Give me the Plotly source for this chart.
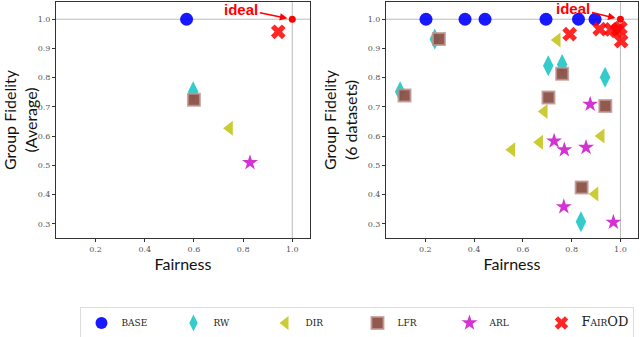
import plotly.graph_objects as go
from plotly.subplots import make_subplots

# method names as they appear in the legend
methods = ["BASE", "RW", "DIR", "LFR", "ARL", "FairOD"]
legend_labels = ["BASE", "RW", "DIR", "LFR", "ARL",
                 "<span style='font-size:13px'>F</span>AIR<span style='font-size:13px'>OD</span>"]

# left panel: averages over datasets
avg_fairness = [0.570, 0.597, 0.745, 0.600, 0.828, 0.943]
avg_fidelity = [1.000, 0.752, 0.627, 0.724, 0.509, 0.957]

# right panel: one point per dataset (6 datasets)
ds_fairness = {
    "BASE": [0.203, 0.363, 0.445, 0.695, 0.828, 0.896],
    "RW": [0.239, 0.097, 0.704, 0.761, 0.937, 0.838],
    "DIR": [0.741, 0.688, 0.669, 0.555, 0.921, 0.896],
    "LFR": [0.256, 0.115, 0.761, 0.705, 0.938, 0.841],
    "ARL": [0.876, 0.728, 0.770, 0.859, 0.768, 0.971],
    "FairOD": [0.792, 0.915, 0.962, 0.985, 1.000, 1.003],
}
ds_fidelity = {
    "BASE": [1.000, 1.000, 1.000, 1.000, 1.000, 1.000],
    "RW": [0.932, 0.752, 0.841, 0.845, 0.801, 0.307],
    "DIR": [0.929, 0.684, 0.579, 0.553, 0.600, 0.402],
    "LFR": [0.932, 0.739, 0.813, 0.732, 0.703, 0.424],
    "ARL": [0.709, 0.583, 0.553, 0.561, 0.358, 0.305],
    "FairOD": [0.949, 0.966, 0.965, 0.960, 0.970, 0.925],
}

ideal_x = [1.0]
ideal_y = [1.0]

styles = {
    "BASE": dict(symbol="circle", color="rgba(0,0,255,0.9)", size=13, line=dict(width=0)),
    "RW": dict(symbol="diamond-tall", color="rgba(0,190,190,0.8)", size=15, line=dict(width=0)),
    "DIR": dict(symbol="triangle-left", color="rgba(190,190,0,0.8)", size=13, line=dict(width=0)),
    "LFR": dict(symbol="square", color="rgba(140,80,70,0.95)", size=12,
                line=dict(width=2, color="rgba(190,150,145,0.8)")),
    "ARL": dict(symbol="star", color="rgba(200,0,200,0.8)", size=12, line=dict(width=0)),
    "FairOD": dict(symbol="x", color="rgba(255,0,0,0.85)", size=13, line=dict(width=0)),
}

fig = make_subplots(rows=1, cols=2, horizontal_spacing=0.13)

for i, m in enumerate(methods):
    fig.add_trace(go.Scatter(x=[avg_fairness[i]], y=[avg_fidelity[i]], mode="markers",
                             marker=styles[m], name=legend_labels[i], showlegend=False),
                  row=1, col=1)
    fig.add_trace(go.Scatter(x=ds_fairness[m], y=ds_fidelity[m], mode="markers",
                             marker=styles[m], name=legend_labels[i], showlegend=True),
                  row=1, col=2)

for c in [1, 2]:
    fig.add_trace(go.Scatter(x=ideal_x, y=ideal_y, mode="markers",
                             marker=dict(color="red", size=7), showlegend=False),
                  row=1, col=c)
    fig.add_hline(y=1.0, line=dict(color="#bbbbbb", width=1), layer="below", row=1, col=c)
    fig.add_vline(x=1.0, line=dict(color="#bbbbbb", width=1), layer="below", row=1, col=c)

fig.add_annotation(x=1.0, y=1.0, xref="x", yref="y", text="<b>ideal</b>",
                   showarrow=True, ax=-51, ay=-10, arrowhead=2, arrowsize=1,
                   arrowwidth=1.5, arrowcolor="red", standoff=5,
                   font=dict(color="red", size=15, family="Liberation Sans"))
fig.add_annotation(x=1.0, y=1.0, xref="x2", yref="y2", text="<b>ideal</b>",
                   showarrow=True, ax=-47, ay=-11, arrowhead=2, arrowsize=1,
                   arrowwidth=1.5, arrowcolor="red", standoff=5,
                   font=dict(color="red", size=15, family="Liberation Sans"))

axis_common = dict(showgrid=False, zeroline=False, showline=True, linecolor="#333333",
                   linewidth=1, mirror=True, ticks="outside", ticklen=3,
                   tickcolor="#333333", automargin=False,
                   tickfont=dict(family="DejaVu Serif", size=8, color="#555555"))

fig.update_xaxes(axis_common, range=[0.039, 1.072], tickvals=[0.2, 0.4, 0.6, 0.8, 1.0],
                 ticktext=["0.2", "0.4", "0.6", "0.8", "1.0"],
                 title=dict(text="Fairness", font=dict(family="Lato", size=16, color="#111"),
                            standoff=6))
fig.update_yaxes(axis_common, range=[0.251, 1.059],
                 tickvals=[0.3, 0.4, 0.5, 0.6, 0.7, 0.8, 0.9, 1.0],
                 ticktext=["0.3", "0.4", "0.5", "0.6", "0.7", "0.8", "0.9", "1.0"])
fig.update_yaxes(title=dict(text="Group Fidelity<br>(Average)",
                            font=dict(family="Lato", size=16, color="#111"), standoff=6),
                 row=1, col=1)
fig.update_yaxes(title=dict(text="Group Fidelity<br>(6 datasets)",
                            font=dict(family="Lato", size=16, color="#111"), standoff=6),
                 row=1, col=2)

fig.update_layout(
    width=640, height=337,
    margin=dict(l=56, r=2, t=2, b=99, autoexpand=False),
    plot_bgcolor="white", paper_bgcolor="white",
    xaxis=dict(domain=[0, 0.4364]),
    xaxis2=dict(domain=[0.567, 1.0]),
    legend=dict(orientation="h", x=0.518, xanchor="center", y=-0.36, yanchor="middle",
                bordercolor="#dddddd", borderwidth=1, entrywidth=47,
                font=dict(family="DejaVu Serif", size=9, color="#222"),
                itemsizing="constant"),
)

# the page body has a default 8px margin; drop it so the figure sits at the corner
fig.write_html("out.html", config={"displayModeBar": False},
               post_script="document.body.style.margin='0';")
